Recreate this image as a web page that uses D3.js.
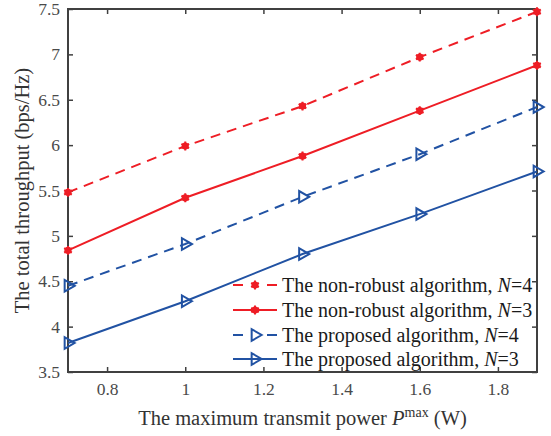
<!DOCTYPE html>
<html>
<head>
<meta charset="utf-8">
<script src="https://cdn.jsdelivr.net/npm/d3@7"></script>
<style>
  body { margin: 0; background: #fff; }
  svg text { font-family: "Liberation Serif", "Times New Roman", "DejaVu Serif", serif !important; }
</style>
</head>
<body>
<div id="chart"></div>
<script>
// data
var powers = [0.7, 1.0, 1.3, 1.6, 1.9];
var nonRobustN4 = [5.48, 5.99, 6.43, 6.97, 7.47];
var nonRobustN3 = [4.84, 5.42, 5.88, 6.38, 6.88];
var proposedN4 = [4.45, 4.91, 5.43, 5.90, 6.42];
var proposedN3 = [3.82, 4.28, 4.80, 5.24, 5.71];
var xTicks = [0.8, 1, 1.2, 1.4, 1.6, 1.8];
var yTicks = [3.5, 4, 4.5, 5, 5.5, 6, 6.5, 7, 7.5];

var series = [
  { name: "The non-robust algorithm, ", vals: nonRobustN4, n: 4, color: "#ee1d25", dash: true, mark: "star" },
  { name: "The non-robust algorithm, ", vals: nonRobustN3, n: 3, color: "#ee1d25", dash: false, mark: "star" },
  { name: "The proposed algorithm, ", vals: proposedN4, n: 4, color: "#2152a3", dash: true, mark: "tri" },
  { name: "The proposed algorithm, ", vals: proposedN3, n: 3, color: "#2152a3", dash: false, mark: "tri" }
];

var width = 551, height = 436;
// plot box (window.top is read-only, so no plain "top")
var pLeft = 68, pRight = 537, pTop = 9, pBottom = 372;
var axisColor = "#404040";

var svg = d3.select("#chart").append("svg")
  .attr("width", width)
  .attr("height", height);

var x = d3.scaleLinear().domain([0.7, 1.9]).range([pLeft, pRight]);
var y = d3.scaleLinear().domain([3.5, 7.5]).range([pBottom, pTop]);

// axes, ticks pointing inward on all four sides
function styleAxis(g) {
  g.attr("font-family", null);
  g.select(".domain").remove();
  g.selectAll(".tick line").attr("stroke", axisColor).attr("stroke-width", 1.5);
  g.selectAll(".tick text")
    .attr("fill", "#4a4a4a")
    .style("font-size", "17.5px");
}

svg.append("g")
  .attr("transform", "translate(0," + pBottom + ")")
  .call(d3.axisBottom(x).tickValues(xTicks).tickFormat(d3.format("")).tickSize(-5).tickPadding(11))
  .call(styleAxis);
svg.append("g")
  .attr("transform", "translate(0," + pTop + ")")
  .call(d3.axisTop(x).tickValues(xTicks).tickFormat("").tickSize(-5))
  .call(styleAxis);
svg.append("g")
  .attr("transform", "translate(" + pLeft + ",0)")
  .call(d3.axisLeft(y).tickValues(yTicks).tickFormat(d3.format("")).tickSize(-5).tickPadding(8))
  .call(styleAxis);
svg.append("g")
  .attr("transform", "translate(" + pRight + ",0)")
  .call(d3.axisRight(y).tickValues(yTicks).tickFormat("").tickSize(-5))
  .call(styleAxis);

svg.append("rect")
  .attr("x", pLeft).attr("y", pTop)
  .attr("width", pRight - pLeft).attr("height", pBottom - pTop)
  .attr("fill", "none")
  .attr("stroke", axisColor)
  .attr("stroke-width", 2);

// markers
var starSym = d3.symbol().type(d3.symbolAsterisk).size(55);
var triSym = d3.symbol().type(d3.symbolTriangle).size(58);

function drawMarker(g, s, px, py) {
  if (s.mark == "star") {
    g.append("circle").attr("cx", px).attr("cy", py).attr("r", 3.6).attr("fill", s.color);
    g.append("path").attr("d", starSym())
      .attr("transform", "translate(" + px + "," + py + ")")
      .attr("fill", "none").attr("stroke", s.color).attr("stroke-width", 2);
  } else {
    g.append("path").attr("d", triSym())
      .attr("transform", "translate(" + px + "," + py + ") rotate(90)")
      .attr("fill", "none").attr("stroke", s.color).attr("stroke-width", 2);
  }
}

var line = d3.line()
  .x(function(d, i) { return x(powers[i]); })
  .y(function(d) { return y(d); });

series.forEach(function(s) {
  var g = svg.append("g");
  g.append("path")
    .datum(s.vals)
    .attr("d", line)
    .attr("fill", "none")
    .attr("stroke", s.color)
    .attr("stroke-width", 2)
    .attr("stroke-dasharray", s.dash ? "10,7" : null);
  s.vals.forEach(function(v, i) {
    drawMarker(g, s, x(powers[i]), y(v));
  });
});

// legend
var legY = [285, 310, 335, 359];
series.forEach(function(s, i) {
  var g = svg.append("g");
  var ly = legY[i];
  if (s.dash) {
    g.append("line").attr("x1", 233).attr("x2", 243).attr("y1", ly).attr("y2", ly)
      .attr("stroke", s.color).attr("stroke-width", 2);
    g.append("line").attr("x1", 267).attr("x2", 277).attr("y1", ly).attr("y2", ly)
      .attr("stroke", s.color).attr("stroke-width", 2);
  } else {
    g.append("line").attr("x1", 233).attr("x2", 277).attr("y1", ly).attr("y2", ly)
      .attr("stroke", s.color).attr("stroke-width", 2);
  }
  drawMarker(g, s, 255, ly);
  var t = g.append("text")
    .attr("x", 282).attr("y", ly + 7)
    .attr("fill", "#1a1a1a")
    .style("font-size", "20px");
  t.append("tspan").text(s.name);
  t.append("tspan").style("font-style", "italic").text("N");
  t.append("tspan").text("=" + s.n);
});

// axis titles
var xt = svg.append("text")
  .attr("x", (pLeft + pRight) / 2)
  .attr("y", 425)
  .attr("text-anchor", "middle")
  .attr("fill", "#333")
  .style("font-size", "20.5px");
xt.append("tspan").text("The maximum transmit power ");
xt.append("tspan").style("font-style", "italic").text("P");
xt.append("tspan").attr("dy", -8).style("font-size", "14px").text("max");
xt.append("tspan").attr("dy", 8).text(" (W)");

svg.append("text")
  .attr("transform", "translate(29," + ((pTop + pBottom) / 2) + ") rotate(-90)")
  .attr("text-anchor", "middle")
  .attr("fill", "#333")
  .style("font-size", "20.5px")
  .text("The total throughput (bps/Hz)");
</script>
</body>
</html>
